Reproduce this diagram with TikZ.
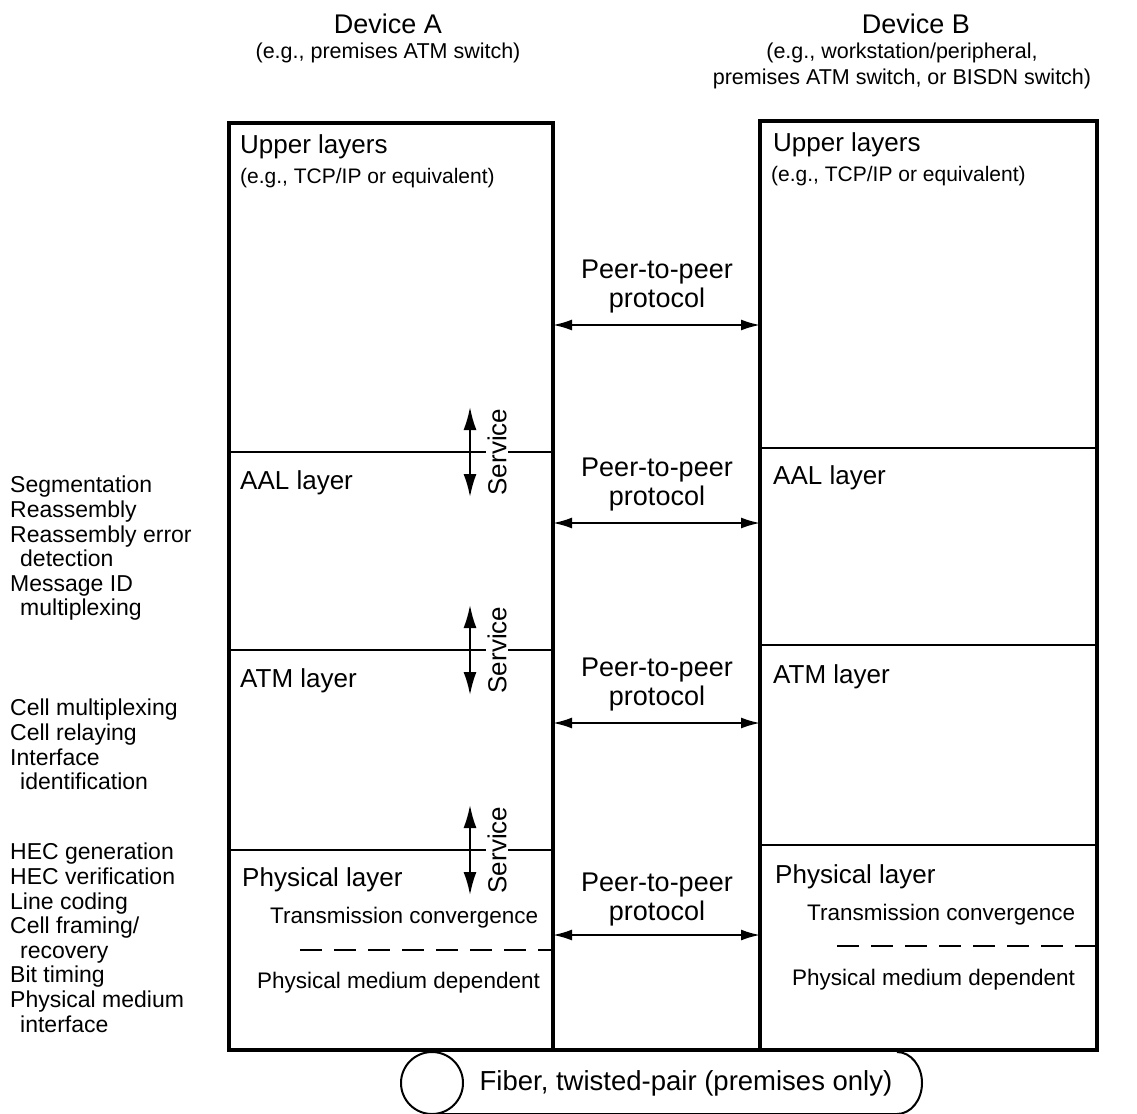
\documentclass[tikz,border=0pt]{standalone}
\usepackage{fontspec}
\setmainfont{Liberation Sans}
\usetikzlibrary{arrows.meta}

\begin{document}
\begin{tikzpicture}[x=1pt,y=-1pt]

  % One unit = one pixel of the page, y runs downwards.
  \useasboundingbox (0,0) rectangle (1137,1113);

  \tikzset{
    title/.style={font=\fontsize{27}{29}\selectfont},
    subtitle/.style={align=center,font=\fontsize{21.5}{26}\selectfont},
    lyr/.style={anchor=west,inner sep=0pt,font=\fontsize{26}{28}\selectfont},
    sublyr/.style={anchor=west,inner sep=0pt,font=\fontsize{22.5}{24}\selectfont},
    eg/.style={anchor=west,inner sep=0pt,font=\fontsize{21}{24}\selectfont},
    func/.style={anchor=north west,align=left,inner sep=0pt,
      font=\fontsize{23}{24.6}\selectfont},
    peer/.style={align=center,font=\fontsize{27}{29}\selectfont},
    svc/.style={rotate=90,fill=white,inner sep=1pt,font=\fontsize{26}{28}\selectfont},
    boxline/.style={line width=3.5pt},
    divline/.style={line width=1.8pt},
    peerarrow/.style={line width=2pt,{Latex[length=19pt,width=11pt]}-{Latex[length=19pt,width=11pt]}},
    svcarrow/.style={line width=2pt,{Latex[length=23pt,width=13pt]}-{Latex[length=23pt,width=13pt]}}
  }

  % Device headings
  \node[title]    (devA)    at (388,24) {Device A};
  \node[subtitle] (devAsub) at (388,53) {(e.g., premises ATM switch)};
  \node[title]    (devB)    at (916,24) {Device B};
  \node[subtitle] (devBsub) at (902,66) {(e.g., workstation/peripheral,\\premises ATM switch, or BISDN switch)};

  % The two protocol stacks, joined along the bottom
  \draw[boxline] (229,123) rectangle (553,1050);
  \draw[boxline] (760,121) rectangle (1097,1050);
  \draw[boxline] (553,1050) -- (760,1050);

  % Layer boundaries
  \foreach \y in {452,650,850}
    \draw[divline] (229,\y) -- (553,\y);
  \foreach \y in {448,645,845}
    \draw[divline] (760,\y) -- (1097,\y);

  % Sublayer boundaries inside the physical layer
  \draw[divline,dash pattern=on 22pt off 12pt] (300,950) -- (553,950);
  \draw[divline,dash pattern=on 22pt off 12pt] (837,946) -- (1097,946);

  % Layer names, device A
  \node[lyr]    (upA)   at (240,147) {Upper layers};
  \node[eg]     (upAeg) at (240,178) {(e.g., TCP/IP or equivalent)};
  \node[lyr]    (aalA)  at (240,483) {AAL layer};
  \node[lyr]    (atmA)  at (240,681) {ATM layer};
  \node[lyr]    (phyA)  at (242,880) {Physical layer};
  \node[sublyr] (tcA)   at (270,918) {Transmission convergence};
  \node[sublyr] (pmdA)  at (257,983) {Physical medium dependent};

  % Layer names, device B
  \node[lyr]    (upB)   at (773,145) {Upper layers};
  \node[eg]     (upBeg) at (771,176) {(e.g., TCP/IP or equivalent)};
  \node[lyr]    (aalB)  at (773,478) {AAL layer};
  \node[lyr]    (atmB)  at (773,677) {ATM layer};
  \node[lyr]    (phyB)  at (775,877) {Physical layer};
  \node[sublyr] (tcB)   at (807,915) {Transmission convergence};
  \node[sublyr] (pmdB)  at (792,980) {Physical medium dependent};

  % Service arrows across the layer boundaries of device A
  \foreach \y [count=\i] in {452,650,850} {
    \coordinate (svtop\i) at (470,\y-45);
    \coordinate (svbot\i) at (470,\y+45);
    \draw[svcarrow] (svtop\i) -- (svbot\i);
    \node[svc] (svc\i) at (497,\y) {Service};
  }

  % Peer-to-peer protocol arrows between the stacks
  \foreach \y/\t [count=\i] in {325/287,523/485,723/685,935/900} {
    \node[peer] (peer\i) at (657,\t) {Peer-to-peer\\protocol};
    \coordinate (pA\i) at (553,\y);
    \coordinate (pB\i) at (760,\y);
    \draw[peerarrow] (pA\i) -- (pB\i);
  }

  % Functions of each layer, listed on the left
  \node[func] (aalfunc) at (10,476) {Segmentation\\Reassembly\\Reassembly error\\
    \hspace*{10pt}detection\\Message ID\\\hspace*{10pt}multiplexing};
  \node[func] (atmfunc) at (10,699) {Cell multiplexing\\Cell relaying\\Interface\\
    \hspace*{10pt}identification};
  \node[func] (phyfunc) at (10,843) {HEC generation\\HEC verification\\Line coding\\
    Cell framing/\\\hspace*{10pt}recovery\\Bit timing\\Physical medium\\
    \hspace*{10pt}interface};

  % Transmission medium, drawn as a cable lying on its side
  \draw[line width=2pt] (432,1083) circle[radius=31];
  \draw[line width=2pt] (432,1114) -- (897,1114)
    arc[start angle=90,end angle=-90,x radius=25,y radius=31];
  \node[font=\fontsize{27.5}{30}\selectfont] (medium) at (686,1083)
    {Fiber, twisted-pair (premises only)};

\end{tikzpicture}
\end{document}
